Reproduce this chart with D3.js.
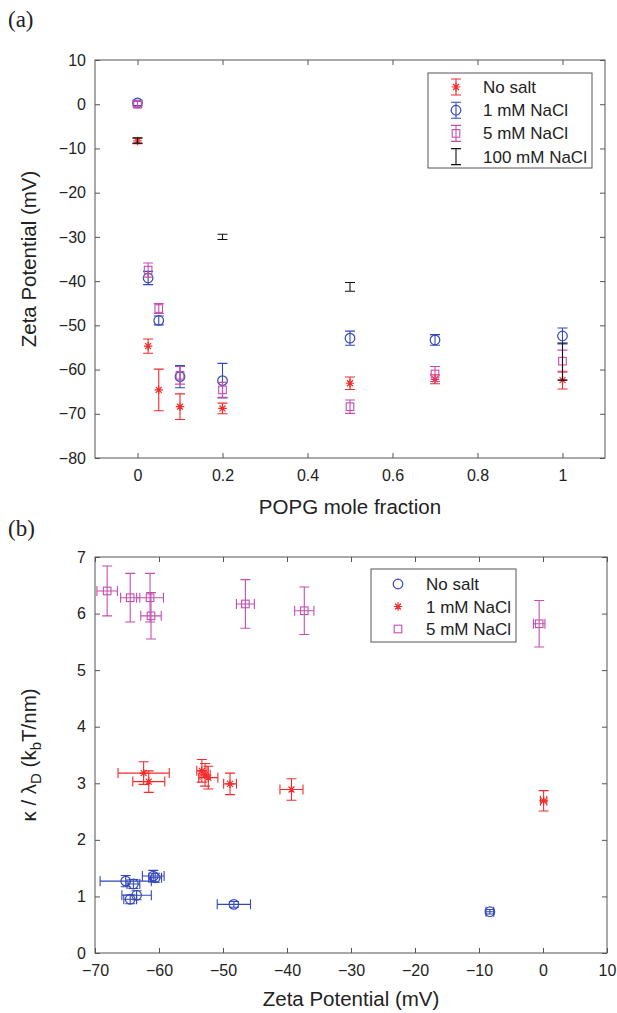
<!DOCTYPE html>
<html>
<head>
<meta charset="utf-8">
<script src="https://cdn.jsdelivr.net/npm/d3@7"></script>
<style>
  body { margin: 0; background: #fff; }
  text { font-family: "Liberation Sans", Arial, sans-serif; fill: #222; }
</style>
</head>
<body>
<div id="chart"></div>
<script>
// ---- panel (a): zeta potential vs POPG mole fraction ----
const popgX = [0, 0.025, 0.05, 0.1, 0.2, 0.5, 0.7, 1];
const zetaNoSalt = [-8.3, -54.7, -64.6, -68.4, -68.8, -63.1, -62.2, -62.4];
const errNoSalt = [0.6, 1.6, 4.7, 2.9, 1.2, 1.4, 1.0, 2.0];
const zeta1mM = [0.3, -39.3, -48.9, -61.6, -62.5, -52.9, -53.3, -52.4];
const err1mM = [0.6, 1.5, 1.0, 2.5, 3.9, 1.6, 1.2, 1.8];
const zeta5mM = [0, -37.5, -46.2, -61.3, -64.6, -68.4, -61.0, -58.1];
const err5mM = [0.6, 1.6, 1.1, 2.0, 1.7, 1.5, 1.7, 2.5];
const popgX100 = [0, 0.2, 0.5, 1];
const zeta100mM = [-8.2, -30.0, -41.3, -58.2];
const err100mM = [0.6, 0.6, 1.0, 4.2];
const xTicksA = [0, 0.2, 0.4, 0.6, 0.8, 1];
const yTicksA = [10, 0, -10, -20, -30, -40, -50, -60, -70, -80];

// ---- panel (b): kappa/lambda_D vs zeta potential ----
const bNoSaltZ = [-65.2, -64.0, -60.9, -60.6, -63.5, -64.5, -48.3, -8.3];
const bNoSaltZErr = [4.0, 1.0, 1.7, 1.0, 2.3, 1.0, 2.6, 0.6];
const bNoSaltK = [1.27, 1.22, 1.36, 1.33, 1.02, 0.95, 0.86, 0.73];
const bNoSaltKErr = [0.1, 0.08, 0.1, 0.08, 0.08, 0.08, 0.05, 0.04];
const b1mMZ = [-62.4, -61.6, -53.3, -52.8, -52.3, -48.9, -39.3, 0.1];
const b1mMZErr = [4.0, 2.5, 0.8, 0.8, 1.5, 1.0, 1.8, 0.5];
const b1mMK = [3.18, 3.03, 3.22, 3.15, 3.10, 2.99, 2.89, 2.69];
const b1mMKErr = [0.2, 0.19, 0.2, 0.2, 0.2, 0.19, 0.19, 0.18];
const b5mMZ = [-68.1, -64.5, -61.4, -61.25, -46.5, -37.3, -0.6];
const b5mMZErr = [1.6, 1.5, 2.1, 1.6, 1.4, 1.5, 0.9];
const b5mMK = [6.40, 6.28, 6.28, 5.96, 6.17, 6.05, 5.82];
const b5mMKErr = [0.44, 0.43, 0.43, 0.41, 0.43, 0.42, 0.41];
const xTicksB = [-70, -60, -50, -40, -30, -20, -10, 0, 10];
const yTicksB = [0, 1, 2, 3, 4, 5, 6, 7];

const RED = "#f22b2b", BLUE = "#3548b8", MAG = "#c64db0", BLACK = "#111";
const AXIS = "#555";
const cap = 5;

const svg = d3.select("#chart").append("svg")
    .attr("width", 617).attr("height", 1013);

function marker(g, type, x, y, color) {
    if (type === "circle") {
        g.append("circle").attr("cx", x).attr("cy", y).attr("r", 4.8)
            .attr("fill", "none").attr("stroke", color).attr("stroke-width", 1.2);
    } else if (type === "square") {
        g.append("rect").attr("x", x - 3.8).attr("y", y - 3.8).attr("width", 7.6).attr("height", 7.6)
            .attr("fill", "none").attr("stroke", color).attr("stroke-width", 1.1);
    } else if (type === "star") {
        const r = 4.2, d = r * Math.SQRT1_2;
        g.append("path")
            .attr("d", `M${x - r},${y}H${x + r}M${x},${y - r}V${y + r}M${x - d},${y - d}L${x + d},${y + d}M${x - d},${y + d}L${x + d},${y - d}`)
            .attr("stroke", color).attr("stroke-width", 1.2).attr("fill", "none");
    }
}

function vbar(g, x, y0, y1, color) {
    g.append("path")
        .attr("d", `M${x},${y0}V${y1}M${x - cap},${y0}H${x + cap}M${x - cap},${y1}H${x + cap}`)
        .attr("stroke", color).attr("stroke-width", 1.1).attr("fill", "none");
}
function hbar(g, y, x0, x1, color) {
    g.append("path")
        .attr("d", `M${x0},${y}H${x1}M${x0},${y - cap}V${y + cap}M${x1},${y - cap}V${y + cap}`)
        .attr("stroke", color).attr("stroke-width", 1.1).attr("fill", "none");
}

function frame(x, y, xTicks, yTicks, xFmt, yFmt) {
    const [l, r] = x.range(), [b, t] = y.range();
    const g = svg.append("g");
    g.append("g").attr("transform", `translate(0,${b})`)
        .call(d3.axisBottom(x).tickValues(xTicks).tickSizeInner(-5).tickSizeOuter(0).tickPadding(12).tickFormat(xFmt));
    g.append("g").attr("transform", `translate(0,${t})`)
        .call(d3.axisTop(x).tickValues(xTicks).tickSizeInner(-5).tickSizeOuter(0).tickFormat(""));
    g.append("g").attr("transform", `translate(${l},0)`)
        .call(d3.axisLeft(y).tickValues(yTicks).tickSizeInner(-5).tickSizeOuter(0).tickPadding(9).tickFormat(yFmt));
    g.append("g").attr("transform", `translate(${r},0)`)
        .call(d3.axisRight(y).tickValues(yTicks).tickSizeInner(-5).tickSizeOuter(0).tickFormat(""));
    g.selectAll(".domain").remove();
    g.selectAll(".tick line").attr("stroke", AXIS);
    g.selectAll(".tick text").attr("font-size", 16).attr("fill", "#222")
        .attr("font-family", "'Liberation Sans', Arial, sans-serif");
    g.append("rect").attr("x", l).attr("y", t).attr("width", r - l).attr("height", b - t)
        .attr("fill", "none").attr("stroke", AXIS).attr("stroke-width", 1);
    return g;
}

// ================= panel (a) =================
const xA = d3.scaleLinear().domain([-0.1, 1.1]).range([95, 605]);
const yA = d3.scaleLinear().domain([-80, 10]).range([458, 60]);
frame(xA, yA, xTicksA, yTicksA, d3.format("~g"), d3.format("d"));

const seriesA = [
    { x: popgX, y: zetaNoSalt, e: errNoSalt, color: RED, m: "star" },
    { x: popgX, y: zeta1mM, e: err1mM, color: BLUE, m: "circle" },
    { x: popgX, y: zeta5mM, e: err5mM, color: MAG, m: "square" },
    { x: popgX100, y: zeta100mM, e: err100mM, color: BLACK, m: "none" }
];
const gA = svg.append("g");
seriesA.forEach(s => {
    s.x.forEach((xv, i) => {
        const px = xA(xv);
        vbar(gA, px, yA(s.y[i] + s.e[i]), yA(s.y[i] - s.e[i]), s.color);
        marker(gA, s.m, px, yA(s.y[i]), s.color);
    });
});

// legend (a)
const legA = svg.append("g");
legA.append("rect").attr("x", 428).attr("y", 73).attr("width", 164).attr("height", 95)
    .attr("fill", "#fff").attr("stroke", AXIS);
const labelsA = ["No salt", "1 mM NaCl", "5 mM NaCl", "100 mM NaCl"];
seriesA.forEach((s, i) => {
    const cy = 87 + i * 23.2;
    vbar(legA, 456, cy - 8, cy + 8, s.color);
    marker(legA, s.m, 456, cy, s.color);
    legA.append("text").attr("x", 483).attr("y", cy + 6).attr("font-size", 17).text(labelsA[i]);
});

svg.append("text").attr("x", 350).attr("y", 514).attr("text-anchor", "middle")
    .attr("font-size", 20.5).text("POPG mole fraction");
svg.append("text").attr("transform", "translate(36,259) rotate(-90)").attr("text-anchor", "middle")
    .attr("font-size", 20.5).text("Zeta Potential (mV)");
svg.append("text").attr("x", 8).attr("y", 27).attr("font-size", 23)
    .style("font-family", "'Liberation Serif', 'Times New Roman', serif").text("(a)");

// ================= panel (b) =================
const xB = d3.scaleLinear().domain([-70, 10]).range([95, 607]);
const yB = d3.scaleLinear().domain([0, 7]).range([953, 557]);
frame(xB, yB, xTicksB, yTicksB, d3.format("d"), d3.format("d"));

const seriesB = [
    { z: bNoSaltZ, ze: bNoSaltZErr, k: bNoSaltK, ke: bNoSaltKErr, color: BLUE, m: "circle" },
    { z: b1mMZ, ze: b1mMZErr, k: b1mMK, ke: b1mMKErr, color: RED, m: "star" },
    { z: b5mMZ, ze: b5mMZErr, k: b5mMK, ke: b5mMKErr, color: MAG, m: "square" }
];
const gB = svg.append("g");
seriesB.forEach(s => {
    s.z.forEach((zv, i) => {
        const px = xB(zv), py = yB(s.k[i]);
        vbar(gB, px, yB(s.k[i] + s.ke[i]), yB(s.k[i] - s.ke[i]), s.color);
        hbar(gB, py, xB(zv - s.ze[i]), xB(zv + s.ze[i]), s.color);
        marker(gB, s.m, px, py, s.color);
    });
});

const legB = svg.append("g");
legB.append("rect").attr("x", 371).attr("y", 569).attr("width", 145).attr("height", 73)
    .attr("fill", "#fff").attr("stroke", AXIS);
const labelsB = ["No salt", "1 mM NaCl", "5 mM NaCl"];
seriesB.forEach((s, i) => {
    const cy = 584 + i * 22.5;
    marker(legB, s.m, 398, cy, s.color);
    legB.append("text").attr("x", 426).attr("y", cy + 6).attr("font-size", 17).text(labelsB[i]);
});

svg.append("text").attr("x", 351).attr("y", 1006).attr("text-anchor", "middle")
    .attr("font-size", 20.5).text("Zeta Potential (mV)");
const yl = svg.append("text").attr("transform", "translate(36,755) rotate(-90)")
    .attr("text-anchor", "middle").attr("font-size", 20.5);
yl.append("tspan").text("κ / λ");
yl.append("tspan").attr("font-size", 15).attr("dy", 5).text("D");
yl.append("tspan").attr("dy", -5).text(" (k");
yl.append("tspan").attr("font-size", 15).attr("dy", 5).text("b");
yl.append("tspan").attr("dy", -5).text("T/nm)");
svg.append("text").attr("x", 8).attr("y", 536).attr("font-size", 23)
    .style("font-family", "'Liberation Serif', 'Times New Roman', serif").text("(b)");
</script>
</body>
</html>
